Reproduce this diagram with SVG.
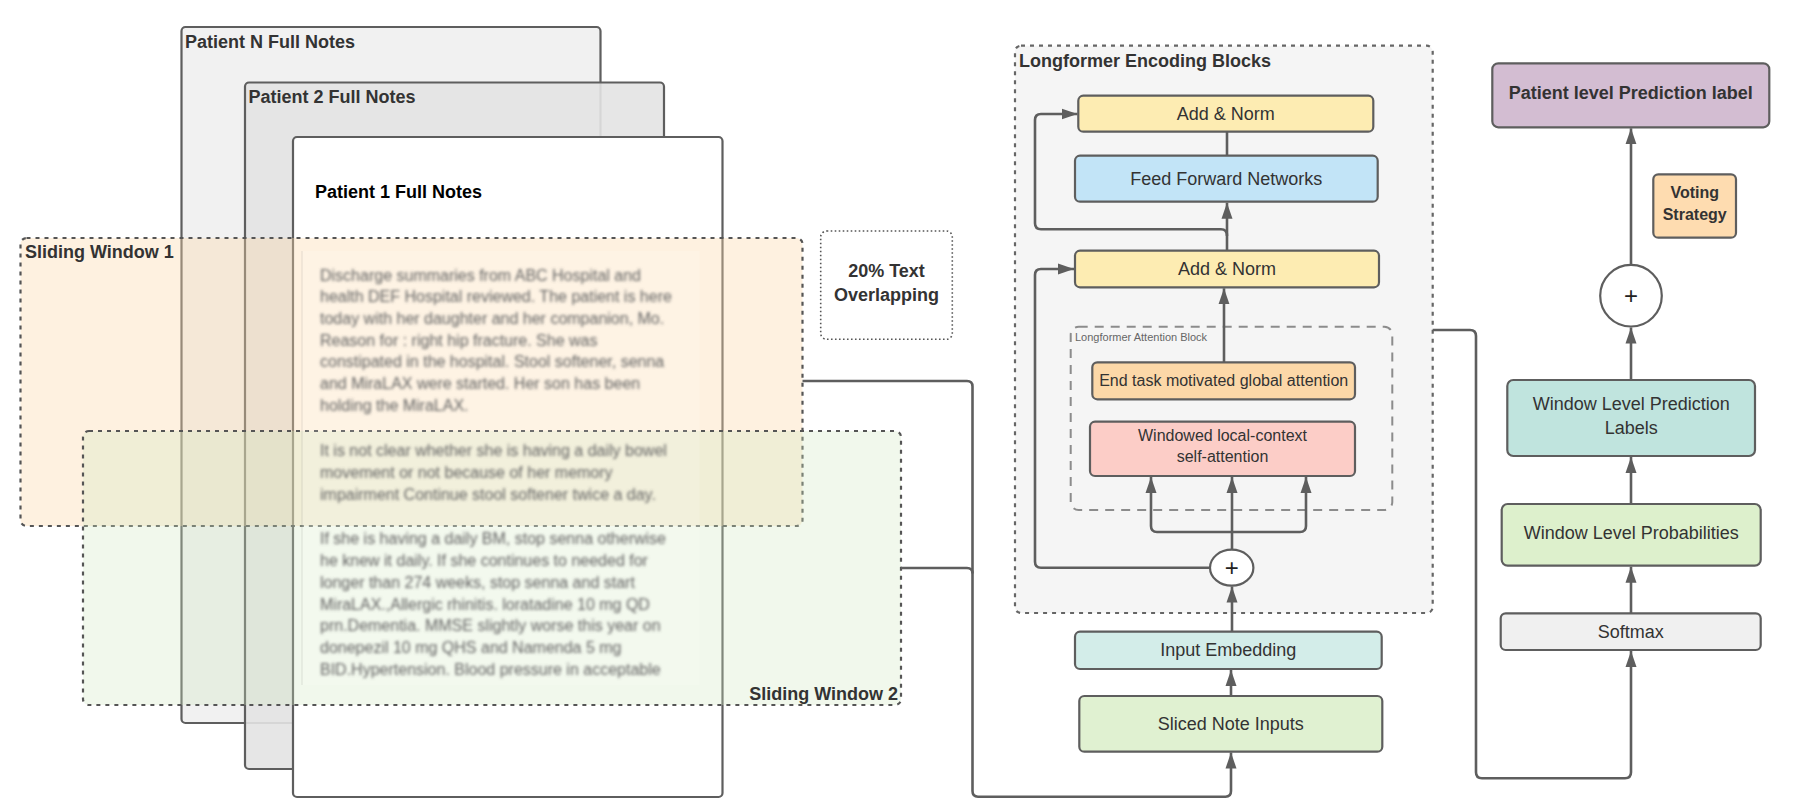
<svg xmlns="http://www.w3.org/2000/svg" width="1794" height="812" viewBox="0 0 1794 812">
<style>
  .t { font-family: "Liberation Sans", Arial, sans-serif; fill: #333; }
  .b { font-weight: bold; }
  .box { stroke: #5e5e5e; stroke-width: 2.2; }
  .conn { fill: none; stroke: #5e5e5e; stroke-width: 2.6; stroke-linejoin: round; }
  .blur { font-family: "Liberation Sans", Arial, sans-serif; font-size: 16px; fill: #626262; }
</style>
<defs>
  <marker id="arr" markerUnits="userSpaceOnUse" markerWidth="17" markerHeight="12" refX="16" refY="6" orient="auto">
    <path d="M0,0.5 L16,6 L0,11.5 z" fill="#5e5e5e"/>
  </marker>
  <filter id="bl" x="-5%" y="-5%" width="110%" height="110%">
    <feGaussianBlur stdDeviation="1.7"/>
  </filter>
</defs>

<!-- Patient notes stack -->
<g id="patient-n">
  <rect class="box" x="181.5" y="27" width="419" height="696" rx="4" fill="#f1f1f1"/>
  <text class="t b" x="185" y="48" font-size="18">Patient N Full Notes</text>
</g>
<g id="patient-2">
  <rect class="box" x="245" y="82.5" width="419" height="686.5" rx="4" fill="#e3e3e3" fill-opacity="0.9"/>
  <text class="t b" x="248.5" y="103" font-size="18">Patient 2 Full Notes</text>
</g>
<g id="patient-1">
  <rect class="box" x="293" y="137" width="429.5" height="660" rx="4" fill="#ffffff"/>
  <text class="t b" x="315" y="198" font-size="18" style="fill:#000">Patient 1 Full Notes</text>
</g>

<!-- Sliding windows -->
<g id="sliding-window-1">
  <rect x="20.5" y="238" width="782" height="288" rx="6" fill="#fbd9a8" fill-opacity="0.36" stroke="#555" stroke-width="2.2" stroke-dasharray="4 5"/>
</g>
<g id="sliding-window-2">
  <rect x="83" y="431" width="818" height="274" rx="6" fill="#cfe8c0" fill-opacity="0.3" stroke="#555" stroke-width="2.2" stroke-dasharray="4 5"/>
</g>

<!-- Blurred note text -->
<g id="note-text">
  <rect x="301.5" y="251" width="398" height="434" fill="#ffffff" fill-opacity="0.15"/>
  <line x1="302" y1="251" x2="302" y2="685" stroke="#000" stroke-opacity="0.07" stroke-width="1.5"/>
  <g filter="url(#bl)">
    <text class="blur" x="320" y="280.5">Discharge summaries from ABC Hospital and</text>
    <text class="blur" x="320" y="302.3">health DEF Hospital reviewed. The patient is here</text>
    <text class="blur" x="320" y="324">today with her daughter and her companion, Mo.</text>
    <text class="blur" x="320" y="345.6">Reason for : right hip fracture. She was</text>
    <text class="blur" x="320" y="367.3">constipated in the hospital. Stool softener, senna</text>
    <text class="blur" x="320" y="389.3">and MiraLAX were started. Her son has been</text>
    <text class="blur" x="320" y="411">holding the MiraLAX.</text>
    <text class="blur" x="320" y="456.2">It is not clear whether she is having a daily bowel</text>
    <text class="blur" x="320" y="477.8">movement or not because of her memory</text>
    <text class="blur" x="320" y="499.5">impairment Continue stool softener twice a day.</text>
    <text class="blur" x="320" y="543.8">If she is having a daily BM, stop senna otherwise</text>
    <text class="blur" x="320" y="565.5">he knew it daily. If she continues to needed for</text>
    <text class="blur" x="320" y="587.6">longer than 274 weeks, stop senna and start</text>
    <text class="blur" x="320" y="609.5">MiraLAX.,Allergic rhinitis. loratadine 10 mg QD</text>
    <text class="blur" x="320" y="631.4">prn.Dementia. MMSE slightly worse this year on</text>
    <text class="blur" x="320" y="653.2">donepezil 10 mg QHS and Namenda 5 mg</text>
    <text class="blur" x="320" y="675">BID.Hypertension. Blood pressure in acceptable</text>
  </g>
</g>

<g id="sliding-window-labels">
  <text class="t b" x="25" y="258.3" font-size="18">Sliding Window 1</text>
  <text class="t b" x="898" y="700" font-size="18" text-anchor="end">Sliding Window 2</text>
</g>

<g id="overlap-note">
  <rect x="820.7" y="231" width="131.6" height="108.3" rx="6" fill="#ffffff" stroke="#555" stroke-width="1.6" stroke-dasharray="1.6 2.4"/>
  <text class="t b" x="886.5" y="276.7" font-size="18" text-anchor="middle">20% Text</text>
  <text class="t b" x="886.5" y="301" font-size="18" text-anchor="middle">Overlapping</text>
</g>

<!-- Longformer container -->
<g id="longformer-blocks">
  <rect x="1015" y="45.7" width="417.7" height="567.3" rx="6" fill="#f5f5f5" stroke="#666" stroke-width="2.2" stroke-dasharray="4 5"/>
  <text class="t b" x="1019" y="66.5" font-size="18">Longformer Encoding Blocks</text>
</g>
<g id="attention-block">
  <rect x="1070.7" y="326.7" width="321.6" height="183.3" rx="8" fill="none" stroke="#8c8c8c" stroke-width="2" stroke-dasharray="9 7"/>
  <text x="1075" y="340.7" font-size="11" font-family="Liberation Sans, Arial, sans-serif" fill="#666">Longformer Attention Block</text>
</g>

<!-- Connectors -->
<g id="connectors">
  <path class="conn" d="M802.5,381 H967 Q972.5,381 972.5,386.5 V791 Q972.5,796.7 978,796.7 H1225.5 Q1231,796.7 1231,791 V752.5" marker-end="url(#arr)"/>
  <path class="conn" d="M901,568 H967 Q972.5,568 972.5,573.5"/>
  <path class="conn" d="M1231,696 V670" marker-end="url(#arr)"/>
  <path class="conn" d="M1232,631.7 V586.5" marker-end="url(#arr)"/>
  <path class="conn" d="M1232,549.7 V477" marker-end="url(#arr)"/>
  <path class="conn" d="M1232,532 H1157 Q1151,532 1151,526 V477" marker-end="url(#arr)"/>
  <path class="conn" d="M1232,532 H1300 Q1306,532 1306,526 V477" marker-end="url(#arr)"/>
  <path class="conn" d="M1210,567.7 H1041 Q1035,567.7 1035,561.7 V275 Q1035,269 1041,269 H1074" marker-end="url(#arr)"/>
  <path class="conn" d="M1224,362.3 V288.3" marker-end="url(#arr)"/>
  <path class="conn" d="M1227,250.7 V202.7" marker-end="url(#arr)"/>
  <path class="conn" d="M1227,236 Q1227,229.3 1221,229.3 H1041 Q1035,229.3 1035,223.3 V120 Q1035,114 1041,114 H1077.5" marker-end="url(#arr)"/>
  <path class="conn" d="M1227,155.7 V131.7"/>
  <path class="conn" d="M1432.7,330 H1470 Q1476,330 1476,336 V772.3 Q1476,778.3 1482,778.3 H1625 Q1631,778.3 1631,772.3 V651" marker-end="url(#arr)"/>
  <path class="conn" d="M1631,613.3 V566.7" marker-end="url(#arr)"/>
  <path class="conn" d="M1631,504 V457" marker-end="url(#arr)"/>
  <path class="conn" d="M1631,380 V327.5" marker-end="url(#arr)"/>
  <path class="conn" d="M1631,265 V128.3" marker-end="url(#arr)"/>
</g>

<!-- Longformer nodes -->
<g id="add-norm-top">
  <rect class="box" x="1078.3" y="95.7" width="295" height="36" rx="5" fill="#fdecb2"/>
  <text class="t" x="1225.8" y="120" font-size="18" text-anchor="middle">Add &amp; Norm</text>
</g>
<g id="feed-forward">
  <rect class="box" x="1075" y="155.7" width="302.7" height="46" rx="5" fill="#c2e4f7"/>
  <text class="t" x="1226.3" y="184.5" font-size="18" text-anchor="middle">Feed Forward Networks</text>
</g>
<g id="add-norm-bottom">
  <rect class="box" x="1075" y="250.7" width="304" height="36.6" rx="5" fill="#fdecb2"/>
  <text class="t" x="1227" y="275.3" font-size="18" text-anchor="middle">Add &amp; Norm</text>
</g>
<g id="global-attention">
  <rect class="box" x="1092.3" y="362.3" width="262.7" height="37" rx="5" fill="#fcd8a8"/>
  <text class="t" x="1223.7" y="386.4" font-size="16" text-anchor="middle">End task motivated global attention</text>
</g>
<g id="local-attention">
  <rect class="box" x="1090" y="421.7" width="265" height="54.3" rx="5" fill="#fccdc7"/>
  <text class="t" x="1222.5" y="441" font-size="16" text-anchor="middle">Windowed local-context</text>
  <text class="t" x="1222.5" y="462.3" font-size="16" text-anchor="middle">self-attention</text>
</g>
<g id="sum-left">
  <ellipse class="box" cx="1231.7" cy="567.7" rx="21.7" ry="18" fill="#ffffff"/>
  <text class="t" x="1231.7" y="576" font-size="24" text-anchor="middle" style="fill:#222">+</text>
</g>
<g id="input-embedding">
  <rect class="box" x="1075" y="631.7" width="306.7" height="37.3" rx="5" fill="#d3ede9"/>
  <text class="t" x="1228.3" y="656.3" font-size="18" text-anchor="middle">Input Embedding</text>
</g>
<g id="sliced-inputs">
  <rect class="box" x="1079.3" y="696" width="303" height="55.7" rx="5" fill="#e0f1d1"/>
  <text class="t" x="1230.8" y="729.5" font-size="18" text-anchor="middle">Sliced Note Inputs</text>
</g>

<!-- Right column -->
<g id="patient-label">
  <rect class="box" x="1492.3" y="63.3" width="277" height="64" rx="6" fill="#d3bdd2"/>
  <text class="t b" x="1630.8" y="99.3" font-size="18" text-anchor="middle">Patient level Prediction label</text>
</g>
<g id="voting-strategy">
  <rect class="box" x="1653.3" y="174.3" width="82.7" height="63.4" rx="5" fill="#fedcb0"/>
  <text class="t b" x="1694.7" y="198" font-size="16" text-anchor="middle">Voting</text>
  <text class="t b" x="1694.7" y="219.5" font-size="16" text-anchor="middle">Strategy</text>
</g>
<g id="sum-right">
  <circle class="box" cx="1631" cy="295.7" r="30.8" fill="#ffffff"/>
  <text class="t" x="1631" y="304" font-size="24" text-anchor="middle" style="fill:#222">+</text>
</g>
<g id="window-labels">
  <rect class="box" x="1507.3" y="380" width="247.7" height="76" rx="6" fill="#c0e4de"/>
  <text class="t" x="1631.2" y="409.5" font-size="18" text-anchor="middle">Window Level Prediction</text>
  <text class="t" x="1631.2" y="434" font-size="18" text-anchor="middle">Labels</text>
</g>
<g id="window-probabilities">
  <rect class="box" x="1501.7" y="504" width="259" height="61.7" rx="6" fill="#ddf0cc"/>
  <text class="t" x="1631.2" y="539.3" font-size="18" text-anchor="middle">Window Level Probabilities</text>
</g>
<g id="softmax">
  <rect class="box" x="1500.7" y="613.3" width="260" height="36.7" rx="5" fill="#f0f0f0"/>
  <text class="t" x="1630.7" y="637.8" font-size="18" text-anchor="middle">Softmax</text>
</g>
</svg>
